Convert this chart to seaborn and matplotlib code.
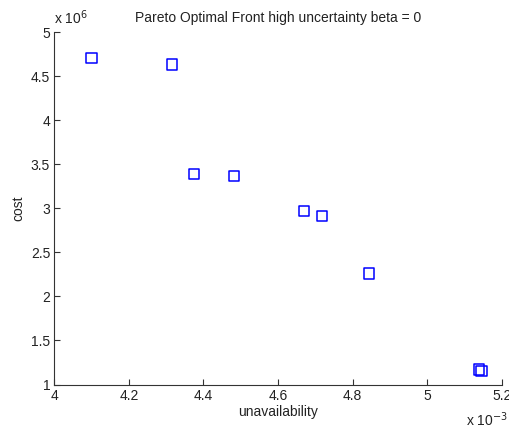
import matplotlib
matplotlib.use("Agg")
import matplotlib.pyplot as plt
from matplotlib.ticker import FuncFormatter
import seaborn as sns
import pandas as pd

# pareto front points (real units)
unavailability = [4.100e-3, 4.316e-3, 4.374e-3, 4.482e-3, 4.670e-3,
                  4.718e-3, 4.844e-3, 5.139e-3, 5.146e-3]
cost = [4.705e6, 4.633e6, 3.392e6, 3.369e6, 2.972e6,
        2.915e6, 2.261e6, 1.171e6, 1.156e6]

xticks = [4.0e-3, 4.2e-3, 4.4e-3, 4.6e-3, 4.8e-3, 5.0e-3, 5.2e-3]
yticks = [1e6, 1.5e6, 2e6, 2.5e6, 3e6, 3.5e6, 4e6, 4.5e6, 5e6]

df = pd.DataFrame({'unavailability': unavailability, 'cost': cost})

sns.set_style("ticks")
plt.rcParams['font.family'] = ['Liberation Sans', 'DejaVu Sans']
plt.rcParams['xtick.direction'] = 'in'
plt.rcParams['ytick.direction'] = 'in'

fig = plt.figure(figsize=(5.09, 4.28), dpi=100)
ax = fig.add_axes([0.1067, 0.1016, 0.8790, 0.8236])

sns.scatterplot(ax=ax, data=df, x='unavailability', y='cost', marker='s',
                s=55, facecolor='none', edgecolor='#0000ff', linewidth=1.1)

ax.set_xlim(4.0e-3, 5.2e-3)
ax.set_ylim(1e6, 5e6)
ax.set_xticks(xticks)
ax.set_yticks(yticks)
ax.xaxis.set_major_formatter(FuncFormatter(lambda v, p: '{:g}'.format(round(v * 1e3, 3))))
ax.yaxis.set_major_formatter(FuncFormatter(lambda v, p: '{:g}'.format(round(v / 1e6, 3))))
ax.tick_params(labelsize=10, length=4, width=0.8, color='#333333', labelcolor='#222222', pad=3)
for s in ['top', 'right']:
    ax.spines[s].set_visible(False)
for s in ['left', 'bottom']:
    ax.spines[s].set_color('#333333')
    ax.spines[s].set_linewidth(0.8)

ax.set_xlabel('unavailability', fontsize=10, color='#222222', labelpad=2)
ax.set_ylabel('cost', fontsize=10, color='#222222', labelpad=4)
ax.set_title('Pareto Optimal Front high uncertainty beta = 0', fontsize=10,
             color='#222222', pad=7)

fig.text(54 / 509, 1 - 18 / 428, 'x 10$^{6}$', fontsize=10, color='#222222',
         ha='left', va='center')
fig.text(466 / 509, 1 - 420 / 428, 'x 10$^{-3}$', fontsize=10, color='#222222',
         ha='left', va='center')

fig.savefig('out.png', dpi=100)
